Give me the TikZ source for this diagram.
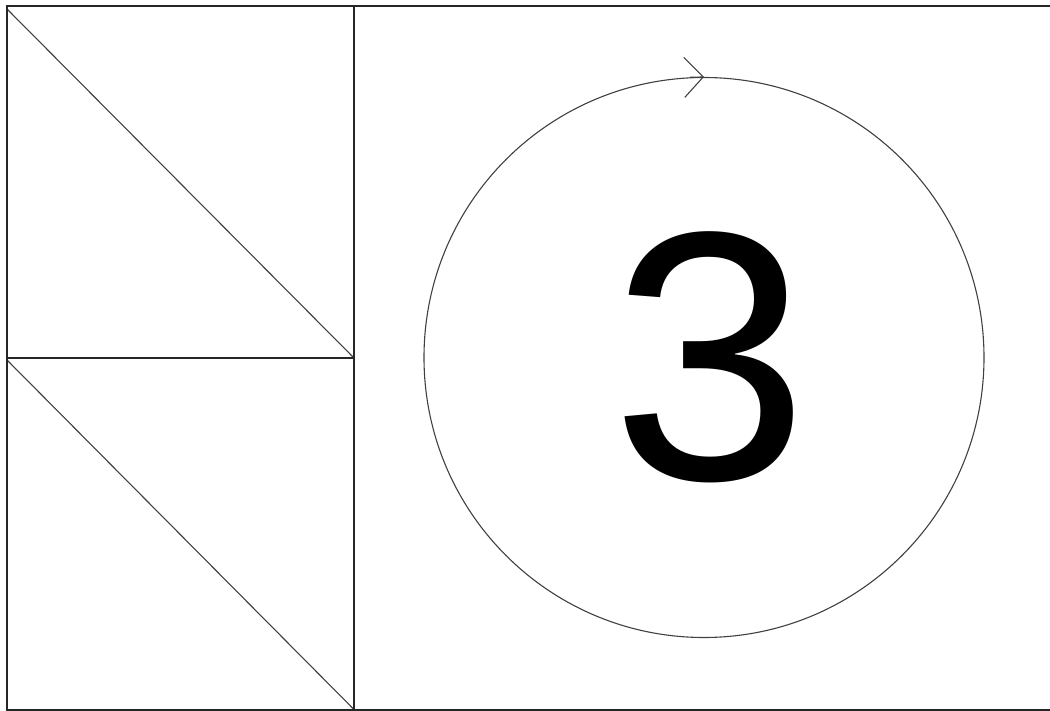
\documentclass[tikz,border=0pt]{standalone}
\usepackage{fontspec}
\setmainfont{Liberation Sans}
\usetikzlibrary{arrows.meta}
\begin{document}
\begin{tikzpicture}[x=1pt,y=-1pt,
  frame/.style={draw=black!85,line width=2pt},
  thin/.style={draw=black!75,line width=1.1pt},
  ring/.style={circle,draw=black!75,line width=1.1pt,minimum size=560pt,inner sep=0pt}]
\useasboundingbox (0,0) rectangle (1050,711);
\coordinate (tl) at (6.5,6.5);
\coordinate (br) at (1053,709.5);
\coordinate (mt) at (354,6.5);
\coordinate (mb) at (354,709.5);
\coordinate (ml) at (6.5,358);
\coordinate (mm) at (354,358);
\draw[thin] (7,9) -- (mm);
\draw[thin] (7,360) -- (mb);
\draw[frame] (tl) rectangle (br);
\draw[frame] (mt) -- (mb);
\draw[frame] (ml) -- (mm);
\node[ring] (c) at (704,357.5) {};
\node (n3) at (710,357) {\fontsize{355}{355}\selectfont 3};
\coordinate (a0) at (690,77.3);
\draw[thin,-{Straight Barb[length=19pt,width=40pt,line width=1.1pt]}] (a0) -- (c.north);
\end{tikzpicture}
\end{document}
